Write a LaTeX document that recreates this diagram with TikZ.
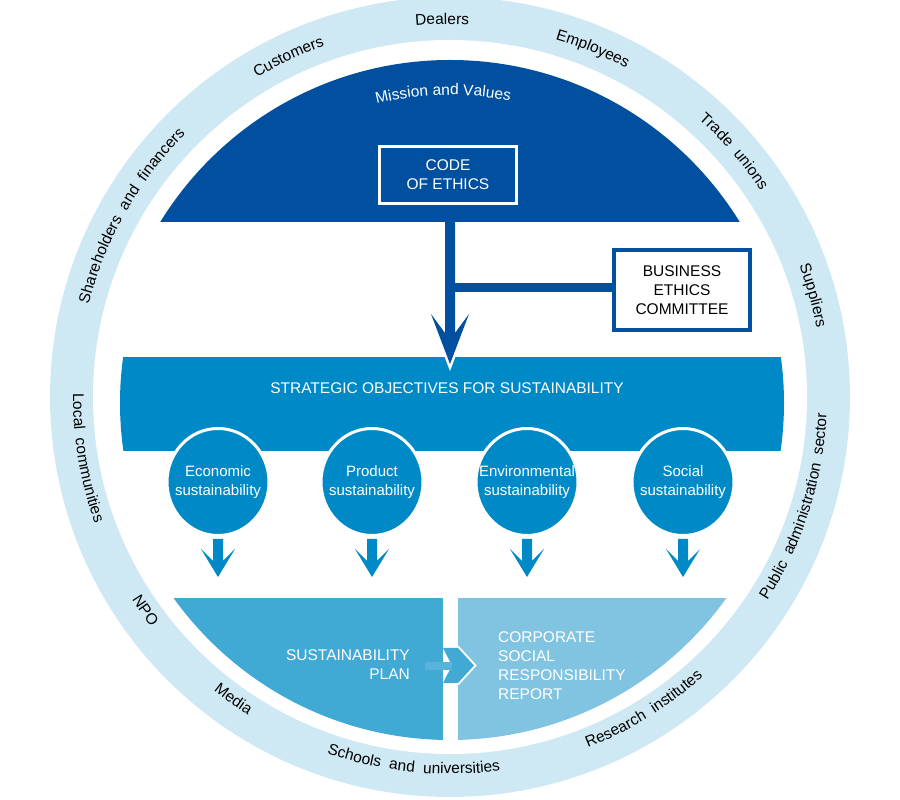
\documentclass[tikz,border=0pt]{standalone}
\usepackage{fontspec}
\setmainfont{Liberation Sans}
\newfontfamily\ringfam{Liberation Sans}[WordSpace=2]
\usetikzlibrary{decorations.text}
\definecolor{ringblue}{HTML}{CFE9F4}
\definecolor{darkblue}{HTML}{00509F}
\definecolor{midblue}{HTML}{0089C7}
\definecolor{planblue}{HTML}{40A9D4}
\definecolor{reportblue}{HTML}{80C4E2}
\newcommand\mainfont{\fontsize{15.5}{19}\selectfont}
\newcommand\ovalfont{\fontsize{15}{19}\selectfont}
\newcommand\ringfont{\ringfam\fontsize{15.5}{19}\selectfont}
\newcommand\ringtop[3]{\path[decorate,decoration={text along path,text align=center,text={|\ringfont|#2}}]
  ({450+#3*cos(#1+40)},{403+#3*sin(#1+40)}) arc[start angle={#1+40}, end angle={#1-40}, radius=#3];}
\newcommand\ringbot[3]{\path[decorate,decoration={text along path,text align=center,text={|\ringfont|#2}}]
  ({450+#3*cos(#1-40)},{403+#3*sin(#1-40)}) arc[start angle={#1-40}, end angle={#1+40}, radius=#3];}
\newcommand\smallarrow[1]{%
  \fill[midblue] (#1-5,261) -- (#1-5,239) -- (#1-17,251) -- (#1,223) -- (#1+17,251) -- (#1+5,239) -- (#1+5,261) -- cycle;}
\tikzset{
  wtext/.style={text=white, font=\mainfont, align=center, inner sep=0},
  oval/.style={fill=midblue, draw=white, line width=3},
}
\begin{document}
\begin{tikzpicture}[x=1pt,y=1pt]
\useasboundingbox (0,0) rectangle (900,800);
% outer ring
\fill[ringblue] (450,403) circle (400);
\fill[white] (450,403) circle (357);
% inner regions
\begin{scope}
  \clip (450,400) circle (340);
  \fill[darkblue] (0,578) rectangle (900,800);
  \fill[planblue] (0,0) rectangle (443,202);
  \fill[reportblue] (458,0) rectangle (900,202);
\end{scope}
\begin{scope}
  \clip (452,397) circle (332);
  \fill[midblue] (0,349) rectangle (900,443);
\end{scope}
% ring labels
\ringtop{91.2}{Dealers}{373}
\ringtop{115.4}{Customers}{373}
\ringtop{67.7}{Employees}{373}
\ringtop{40.9}{Trade unions}{373}
\ringtop{15.6}{Suppliers}{373}
\ringtop{150.4}{Shareholders and financers}{373}
\ringbot{-17.6}{Public administration sector}{377}
\ringbot{-58.2}{Research institutes}{377}
\ringbot{264.3}{Schools and universities}{377}
\ringbot{234.4}{Media}{377}
\ringbot{215}{NPO}{377}
\ringbot{189.5}{Local communities}{377}
% mission
\path[decorate,decoration={text along path,text align=center,text={|\mainfont\color{white}|Mission and Values}}]
  ({450+305*cos(131.3)},{400+305*sin(131.3)}) arc[start angle=131.3, end angle=51.3, radius=305];
% code of ethics
\node[wtext, draw=white, line width=3, minimum width=137, minimum height=57] (coe) at (448,625) {CODE\\OF ETHICS};
% business ethics committee
\node[font=\mainfont, align=center, text=black, fill=white, draw=darkblue, line width=4, minimum width=136, minimum height=80, inner sep=0] (bec) at (682,510) {BUSINESS\\ETHICS\\COMMITTEE};
% main arrow
\coordinate (j) at (450,512.5);
\draw[darkblue, line width=9] (j) -- (j -| bec.west);
\draw[white, line width=5, line join=miter] (445,467) -- (431,486) -- (450,436) -- (469,486) -- (455,467);
\fill[darkblue] (445,580) -- (445,467) -- (431,486) -- (450,436) -- (469,486) -- (455,467) -- (455,580) -- cycle;
% strategic objectives
\node[wtext] (sos) at (447,412) {STRATEGIC OBJECTIVES FOR SUSTAINABILITY};
% ovals
\foreach \x/\n/\t in {218/eco/{Economic\\sustainability},372/prod/{Product\\sustainability},527/env/{Environmental\\sustainability},683/soc/{Social\\sustainability}}{
  \path[oval] (\x,318) ellipse [x radius=51, y radius=53.5];
  \node[wtext, font=\ovalfont] (\n) at (\x,318) {\t};
  \smallarrow{\x}
}
% bottom chevron
\fill[planblue!88!white] (425,130) rectangle (452,138);
\draw[white, line width=4, line join=miter] (443,152) -- (458,152) -- (474,134.5) -- (458,117) -- (443,117);
\fill[planblue] (443,152) -- (458,152) -- (474,134.5) -- (458,117) -- (443,117) -- (452,134.5) -- cycle;
\fill[planblue!88!white] (443,130) rectangle (452,138);
% bottom texts
\node[wtext, anchor=east, align=right] (plan) at (410,135.5) {SUSTAINABILITY\\PLAN};
\node[wtext, anchor=west, align=left] (csr) at (498,134.5) {CORPORATE\\SOCIAL\\RESPONSIBILITY\\REPORT};
\end{tikzpicture}
\end{document}
